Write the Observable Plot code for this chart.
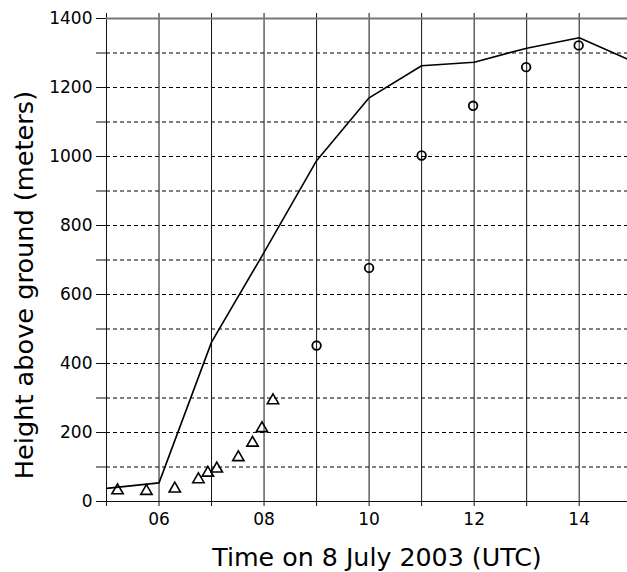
<!DOCTYPE html>
<html>
<head>
<meta charset="utf-8">
<script src="https://cdn.jsdelivr.net/npm/d3@7"></script>
<script src="https://cdn.jsdelivr.net/npm/@observablehq/plot@0.6"></script>
<style>
  html, body { margin: 0; padding: 0; background: #fff; overflow: hidden; }
  #chart svg { display: block; font-family: "DejaVu Sans", Verdana, sans-serif; }
</style>
</head>
<body>
<div id="chart"></div>
<script>
// Model (line) – hourly
const modelHours = [5, 6, 7, 8, 9, 10, 11, 12, 13, 14, 15];
const modelHeight = [38, 54, 462, 722, 988, 1170, 1263, 1273, 1314, 1344, 1277];

// Observations (triangles)
const triHours = [5.21, 5.76, 6.30, 6.75, 6.93, 7.10, 7.51, 7.78, 7.96, 8.17];
const triHeight = [32, 30, 37, 64, 83, 95, 128, 170, 212, 293];

// Observations (circles)
const circHours = [9.0, 10.0, 11.0, 11.98, 12.99, 13.99];
const circHeight = [452, 677, 1003, 1147, 1259, 1322];

// Axis ticks
const xGridHours = [5, 6, 7, 8, 9, 10, 11, 12, 13, 14];
const yGridValues = [100, 200, 300, 400, 500, 600, 700, 800, 900, 1000, 1100, 1200, 1300];
const yTickValues = [0, 100, 200, 300, 400, 500, 600, 700, 800, 900, 1000, 1100, 1200, 1300, 1400];
const yLabelValues = [0, 200, 400, 600, 800, 1000, 1200, 1400];

const xLabel = "Time on 8 July 2003 (UTC)";
const yLabel = "Height above ground (meters)";

const model = modelHours.map((h, i) => ({h, v: modelHeight[i]}));
const tris = triHours.map((h, i) => ({h, v: triHeight[i]}));
const circs = circHours.map((h, i) => ({h, v: circHeight[i]}));

const chart = Plot.plot({
  width: 627,
  height: 572,
  marginLeft: 106,
  marginRight: 0,
  marginTop: 18,
  marginBottom: 71,
  style: {fontFamily: "DejaVu Sans, Verdana, sans-serif", background: "#fff", color: "#000"},
  x: {domain: [5, 14.92], label: null},
  y: {domain: [0, 1400], label: null},
  marks: [
    // dashed horizontal grid
    Plot.ruleY(yGridValues, {stroke: "#000", strokeWidth: 1, strokeDasharray: "4,3"}),
    // vertical hourly grid (extends slightly above and below the frame)
    Plot.ruleX(xGridHours, {stroke: "#111", strokeWidth: 1, insetTop: -5, insetBottom: -5}),
    // top frame line
    Plot.ruleY([1400], {stroke: "#777", strokeWidth: 2}),
    // bottom axis line
    Plot.ruleY([0], {stroke: "#111", strokeWidth: 1.2}),
    // y ticks
    Plot.axisY({ticks: yTickValues, tickSize: 10, tickPadding: 4, fontSize: 17,
      tickFormat: d => yLabelValues.includes(d) ? String(d) : "", label: null, stroke: "#111"}),
    // x tick labels
    Plot.axisX({ticks: xGridHours, tickSize: 0, tickPadding: 11, fontSize: 17,
      tickFormat: d => d % 2 === 0 ? String(d).padStart(2, "0") : "", label: null}),
    // model line
    Plot.line(model, {x: "h", y: "v", stroke: "#000", strokeWidth: 1.6, clip: true}),
    // observations
    Plot.dot(tris, {x: "h", y: "v", symbol: "triangle", r: 4.2, stroke: "#000", strokeWidth: 1.6, fill: "none"}),
    Plot.dot(circs, {x: "h", y: "v", symbol: "circle", r: 4.3, stroke: "#000", strokeWidth: 1.8, fill: "none"}),
    // axis titles
    Plot.text([xLabel], {frameAnchor: "bottom", textAnchor: "middle", lineAnchor: "middle",
      dy: 56, dx: 10, text: d => d, fontSize: 25.3, fill: "#000"}),
    Plot.text([yLabel], {frameAnchor: "left", textAnchor: "middle", lineAnchor: "middle",
      dx: -82, dy: 25, rotate: -90, text: d => d, fontSize: 25.6, fill: "#000"})
  ]
});
document.getElementById("chart").appendChild(chart);
</script>
</body>
</html>
